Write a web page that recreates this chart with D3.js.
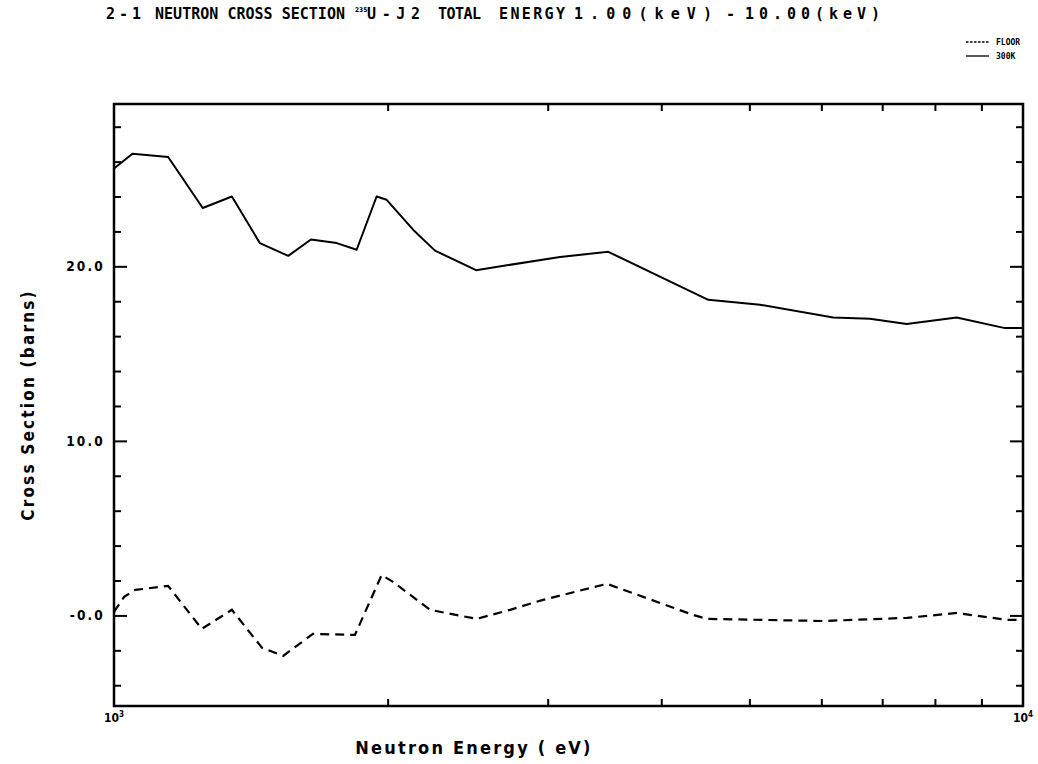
<!DOCTYPE html>
<html>
<head>
<meta charset="utf-8">
<script src="https://cdn.jsdelivr.net/npm/d3@7"></script>
<style>
  html, body { margin: 0; padding: 0; background: #fff; }
  svg text { fill: #000; }
</style>
</head>
<body>
<svg id="chart" width="1038" height="764"></svg>
<script>
// Total cross section of U-235 (J2 library), 1 keV - 10 keV
const energy300K = [1000, 1048, 1147, 1252, 1348, 1447, 1555, 1647, 1758, 1849, 1945, 1995, 2143, 2255, 2502, 3095, 3498, 4506, 5137, 6184, 6786, 7448, 8453, 9555, 10000];
const sigma300K  = [25.6, 26.45, 26.26, 23.34, 24.0, 21.33, 20.6, 21.54, 21.33, 20.95, 24.0, 23.81, 21.99, 20.9, 19.78, 20.54, 20.83, 18.08, 17.8, 17.07, 16.99, 16.69, 17.07, 16.46, 16.46];

const energyFloor = [1000, 1026, 1055, 1147, 1249, 1348, 1455, 1535, 1655, 1841, 1970, 2027, 2227, 2506, 2727, 2965, 3486, 4335, 4491, 6026, 7454, 8461, 9603, 10000];
const sigmaFloor  = [0.2, 1.06, 1.46, 1.69, -0.77, 0.32, -1.86, -2.32, -1.06, -1.12, 2.32, 1.92, 0.32, -0.2, 0.32, 0.89, 1.81, 0.03, -0.2, -0.32, -0.14, 0.14, -0.26, -0.26];

const yMajorTicks = [0, 10, 20];
const yMajorLabels = ["-0.0", "10.0", "20.0"];
const yMinorTicks = [-4, -2, 2, 4, 6, 8, 12, 14, 16, 18, 22, 24, 26, 28];
const xMinorTicks = [2000, 3000, 4000, 5000, 6000, 7000, 8000, 9000];
const legendNames = ["FLOOR", "300K"];

const SANS = "'DejaVu Sans Condensed', 'DejaVu Sans', sans-serif";
const MONO = "'DejaVu Sans Mono', monospace";

const svg = d3.select("#chart").style("font-family", SANS);
const plotLeft = 114, plotRight = 1023, plotTop = 104, plotBottom = 706;

const x = d3.scaleLog().domain([1000, 10000]).range([plotLeft, plotRight]);
const y = d3.scaleLinear().domain([-5.19, 29.3]).range([plotBottom, plotTop]);

// Title, set piece by piece in fixed-pitch plotter-style lettering
const titleParts = [
  { x: 106, w: 35,  text: "2 - 1" },
  { x: 155, w: 190, text: "NEUTRON CROSS SECTION" },
  { x: 367, w: 53,  text: "U-J2" },
  { x: 438, w: 43,  text: "TOTAL" },
  { x: 499, w: 66,  text: "ENERGY" },
  { x: 574, w: 138, text: "1.00(keV)" },
  { x: 726, w: 9,   text: "-" },
  { x: 745, w: 135, text: "10.00(keV)" }
];
titleParts.forEach(p => {
  svg.append("text")
    .attr("x", p.x).attr("y", 19)
    .style("font-family", MONO)
    .attr("font-size", 15).attr("font-weight", "bold")
    .attr("textLength", p.w).attr("lengthAdjust", "spacing")
    .text(p.text);
});
svg.append("text")
  .attr("x", 355).attr("y", 12)
  .attr("font-size", 6.5).attr("font-weight", "bold")
  .text("235");

// Legend
const legend = svg.append("g");
legendNames.forEach((name, i) => {
  const ly = 42 + i * 14;
  legend.append("line")
    .attr("x1", 966).attr("x2", 989).attr("y1", ly).attr("y2", ly)
    .attr("stroke", "#000").attr("stroke-width", 1.3)
    .attr("stroke-dasharray", i === 0 ? "2.5,1.5" : null);
  legend.append("text")
    .attr("x", 996).attr("y", ly + 3)
    .style("font-family", MONO)
    .attr("font-size", 8).attr("font-weight", "bold")
    .text(name);
});

// Frame ticks (all pointing inward)
function styleAxis(g) {
  g.select(".domain").remove();
  g.selectAll(".tick line").attr("stroke", "#000").attr("stroke-width", 2);
}

svg.append("g").attr("transform", `translate(${plotLeft},0)`)
  .call(d3.axisLeft(y).tickValues(yMajorTicks).tickSizeInner(-13).tickSizeOuter(0).tickPadding(9)
    .tickFormat((d, i) => yMajorLabels[i]))
  .call(styleAxis)
  .call(g => g.selectAll(".tick text")
    .attr("font-size", 13.5).attr("font-weight", "bold").attr("letter-spacing", 2.2)
    .style("font-family", SANS).attr("fill", "#000"));

svg.append("g").attr("transform", `translate(${plotLeft},0)`)
  .call(d3.axisLeft(y).tickValues(yMinorTicks).tickSizeInner(-7).tickSizeOuter(0).tickFormat(""))
  .call(styleAxis);

svg.append("g").attr("transform", `translate(${plotRight},0)`)
  .call(d3.axisRight(y).tickValues(yMajorTicks).tickSizeInner(-13).tickSizeOuter(0).tickFormat(""))
  .call(styleAxis);

svg.append("g").attr("transform", `translate(${plotRight},0)`)
  .call(d3.axisRight(y).tickValues(yMinorTicks).tickSizeInner(-7).tickSizeOuter(0).tickFormat(""))
  .call(styleAxis);

svg.append("g").attr("transform", `translate(0,${plotBottom})`)
  .call(d3.axisBottom(x).tickValues(xMinorTicks).tickSizeInner(-7).tickSizeOuter(0).tickFormat(""))
  .call(styleAxis);

svg.append("g").attr("transform", `translate(0,${plotTop})`)
  .call(d3.axisTop(x).tickValues(xMinorTicks).tickSizeInner(-7).tickSizeOuter(0).tickFormat(""))
  .call(styleAxis);

// Frame
svg.append("rect")
  .attr("x", plotLeft).attr("y", plotTop)
  .attr("width", plotRight - plotLeft).attr("height", plotBottom - plotTop)
  .attr("fill", "none").attr("stroke", "#000").attr("stroke-width", 2.5);

// Decade labels on the energy axis
[[1000, "3"], [10000, "4"]].forEach(([e, p]) => {
  const t = svg.append("text")
    .attr("x", x(e)).attr("y", 722)
    .attr("text-anchor", "middle")
    .attr("font-size", 12).attr("font-weight", "bold");
  t.append("tspan").text("10");
  t.append("tspan").attr("dy", -5).attr("font-size", 8).text(p);
});

// Axis titles
svg.append("text")
  .attr("transform", "translate(34,405) rotate(-90)")
  .attr("text-anchor", "middle")
  .attr("font-size", 17).attr("letter-spacing", 2.2)
  .attr("font-weight", "bold")
  .text("Cross Section (barns)");

svg.append("text")
  .attr("x", 474).attr("y", 754)
  .attr("text-anchor", "middle")
  .attr("font-size", 18).attr("letter-spacing", 2.2)
  .attr("font-weight", "bold")
  .text("Neutron Energy ( eV)");

// Curves
const line = d3.line().x(d => x(d[0])).y(d => y(d[1]));

svg.append("path")
  .datum(d3.zip(energy300K, sigma300K))
  .attr("d", line)
  .attr("fill", "none").attr("stroke", "#000").attr("stroke-width", 2)
  .attr("stroke-linejoin", "round");

svg.append("path")
  .datum(d3.zip(energyFloor, sigmaFloor))
  .attr("d", line)
  .attr("fill", "none").attr("stroke", "#000").attr("stroke-width", 2.2)
  .attr("stroke-dasharray", "9,6");
</script>
</body>
</html>
